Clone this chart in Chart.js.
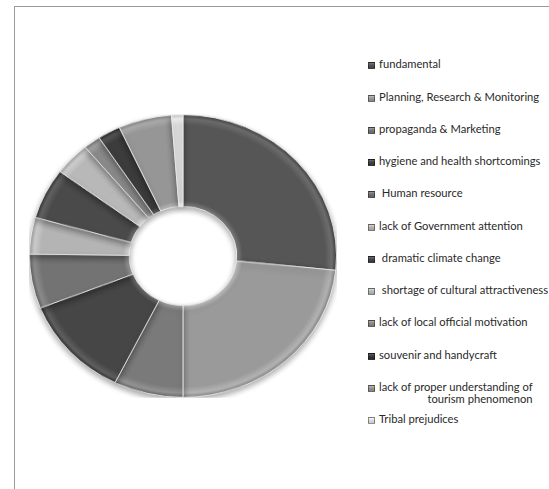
<!DOCTYPE html>
<html>
<head>
<meta charset="utf-8">
<script src="https://cdn.jsdelivr.net/npm/chart.js@4.4.0/dist/chart.umd.min.js"></script>
<style>
  html, body { margin: 0; padding: 0; background: #fff; }
  #page { position: relative; width: 549px; height: 489px; overflow: hidden; }
  #frame { position: absolute; left: 14px; top: 6px; width: 540px; height: 500px;
           border-top: 1px solid #9a9a9a; border-left: 1px solid #9a9a9a; }
  #pie { position: absolute; left: 29px; top: 102px; width: 308px; height: 308px;
         transform: scaleY(0.92); transform-origin: 50% 50%; }
  #legend { position: absolute; left: 366px; top: 0; margin: 0; padding: 0; list-style: none;
            font-family: Lato, "Open Sans", sans-serif; font-size: 11.2px; color: #2a2a2a; }
  #legend li { position: absolute; white-space: nowrap; display: flex; align-items: flex-start; }
  #legend .box { width: 5px; height: 5px; margin: 4px 4px 0 2px; border: 1px solid rgba(0,0,0,0.4); }
  #legend .txt { display: inline-block; text-align: right; line-height: 12px; }
</style>
</head>
<body>
<div id="page">
  <div id="frame"></div>
  <div id="pie"><canvas id="problemChart" width="308" height="308"></canvas></div>
  <ul id="legend"></ul>
</div>
<script>
// Tourism problems, share of responses (%)
const categories = [
  'fundamental',
  'Planning, Research & Monitoring',
  'propaganda & Marketing',
  'hygiene and health shortcomings',
  ' Human resource',
  'lack of Government attention',
  ' dramatic climate change',
  ' shortage of cultural attractiveness',
  'lack of local official motivation',
  'souvenir and handycraft',
  'lack of proper understanding of\ntourism phenomenon',
  'Tribal prejudices'
];
const shares = [26.6, 23.4, 7.3, 11.7, 6.2, 4.2, 5.8, 3.8, 1.8, 2.4, 5.6, 1.2];
const greys = ['#565656', '#9a9a9a', '#7a7a7a', '#464646', '#737373', '#b4b4b4',
               '#4a4a4a', '#b8b8b8', '#8a8a8a', '#3c3c3c', '#969696', '#dcdcdc'];
const legendTops = [58, 91, 123, 155, 187, 220, 252, 284, 316, 349, 381, 413];

// lighten/darken a #rrggbb grey
function shade(hex, amt) {
  const v = Math.max(0, Math.min(255, parseInt(hex.slice(1, 3), 16) + amt));
  const h = v.toString(16).padStart(2, '0');
  return '#' + h + h + h;
}

// bevelled look: light rim at the hole and at the outer edge
function sliceFill(ctx) {
  const base = greys[ctx.dataIndex];
  const area = ctx.chart.chartArea;
  if (!area) return base;
  const cx = (area.left + area.right) / 2;
  const cy = (area.top + area.bottom) / 2;
  const outer = Math.min(area.right - area.left, area.bottom - area.top) / 2;
  const inner = outer * 0.35;
  const g = ctx.chart.ctx.createRadialGradient(cx, cy, inner, cx, cy, outer);
  g.addColorStop(0, shade(base, 40));
  g.addColorStop(0.06, base);
  g.addColorStop(0.88, base);
  g.addColorStop(0.95, shade(base, 25));
  g.addColorStop(1, shade(base, -25));
  return g;
}

// soft drop shadow under the ring
const ringShadow = {
  id: 'ringShadow',
  beforeDatasetsDraw(chart) {
    const c = chart.ctx;
    c.save();
    c.shadowColor = 'rgba(0,0,0,0.35)';
    c.shadowBlur = 6;
    c.shadowOffsetY = 3;
  },
  afterDatasetsDraw(chart) {
    chart.ctx.restore();
  }
};

const problemChart = new Chart(document.getElementById('problemChart'), {
  type: 'doughnut',
  data: {
    labels: categories,
    datasets: [{
      data: shares,
      backgroundColor: sliceFill,
      borderColor: 'rgba(235,235,235,0.9)',
      borderWidth: 1
    }]
  },
  options: {
    responsive: false,
    animation: false,
    cutout: '35%',
    layout: { padding: 0 },
    plugins: {
      legend: { display: false },
      tooltip: { enabled: false }
    }
  },
  plugins: [ringShadow]
});

// Legend on the right
const legendList = document.getElementById('legend');
categories.forEach((name, i) => {
  const li = document.createElement('li');
  li.style.top = legendTops[i] + 'px';
  const box = document.createElement('span');
  box.className = 'box';
  box.style.background = 'linear-gradient(' + shade(greys[i], 35) + ', ' + greys[i] + ' 40%, ' + shade(greys[i], -20) + ')';
  const txt = document.createElement('span');
  txt.className = 'txt';
  txt.innerHTML = name.replace(/ /g, '&nbsp;').replace('\n', '<br>');
  li.appendChild(box);
  li.appendChild(txt);
  legendList.appendChild(li);
});
</script>
</body>
</html>
